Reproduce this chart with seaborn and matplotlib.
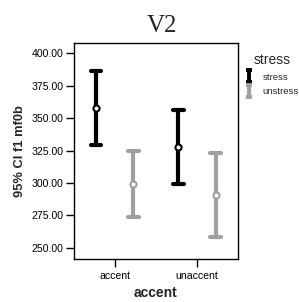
import numpy as np
import pandas as pd
import matplotlib
matplotlib.use("Agg")
import matplotlib.pyplot as plt
import seaborn as sns
from matplotlib.path import Path
from matplotlib.lines import Line2D

# ---- data ----
accent_levels = ["accent", "unaccent"]
stress_levels = ["stress", "unstress"]
mean_stress = [357.7, 327.5]
lo_stress = [328.9, 299.3]
hi_stress = [386.5, 355.9]
mean_unstress = [299.5, 290.8]
lo_unstress = [273.7, 258.5]
hi_unstress = [325.0, 322.8]
yticks = [250, 275, 300, 325, 350, 375, 400]
ytick_labels = ["250.00", "275.00", "300.00", "325.00", "350.00", "375.00", "400.00"]

rows = []
for i, acc in enumerate(accent_levels):
    for st, lo, mu, hi in [("stress", lo_stress, mean_stress, hi_stress),
                           ("unstress", lo_unstress, mean_unstress, hi_unstress)]:
        for v in (lo[i], mu[i], hi[i]):
            rows.append({"accent": acc, "stress": st, "f1mf0b": v})
df = pd.DataFrame(rows)

sns.set_style("white")
plt.rcParams["font.family"] = ["Liberation Sans", "DejaVu Sans"]

BLACK = "#000000"
GREY = "#a0a0a0"

fig = plt.figure(figsize=(2.99, 3.02), dpi=100)
ax = fig.add_axes([0.246, 0.1424, 0.550, 0.715])

sns.pointplot(
    data=df, x="accent", y="f1mf0b", hue="stress",
    order=accent_levels, hue_order=stress_levels,
    estimator="median", errorbar=lambda v: (v.min(), v.max()),
    dodge=0.454, linestyle="none", palette=[BLACK, GREY],
    capsize=0.13, err_kws={"linewidth": 3.0},
    markers="o", markersize=4.4, markeredgewidth=1.5,
    markerfacecolor="white", legend=False, ax=ax,
)
for ln in ax.lines:
    if ln.get_marker() == "o":
        ln.set_zorder(5)
        ln.set_markerfacecolor("white")

ax.set_xlim(-0.5, 1.5)
ax.set_ylim(241.5, 407.7)
ax.set_yticks(yticks)
ax.set_yticklabels(ytick_labels)
for s in ax.spines.values():
    s.set_visible(True)
    s.set_color("black")
    s.set_linewidth(1.0)
ax.tick_params(axis="both", which="both", direction="out", length=6, width=1,
               color="black", labelsize=7.6, pad=1.5, labelcolor="black")
ax.tick_params(left=True, bottom=True, right=False, top=False)
ax.tick_params(axis="x", pad=3)
ax.set_xlabel("accent", fontsize=10, fontweight="bold", labelpad=3)
ax.set_ylabel("95% CI f1 mf0b", fontsize=9.3, fontweight="bold", labelpad=4)

fig.text(0.543, 0.894, "V2", fontsize=18, family=["Liberation Serif", "DejaVu Serif"],
         ha="center", va="baseline")

# legend with I-shaped error bar glyphs
ipath = Path([(-0.5, 1), (0.5, 1), (0, 1), (0, -1), (-0.5, -1), (0.5, -1)],
             [Path.MOVETO, Path.LINETO, Path.MOVETO, Path.LINETO, Path.MOVETO, Path.LINETO])
handles = [Line2D([], [], linestyle="none", marker=ipath, markersize=8.5,
                  markeredgewidth=2.8, markeredgecolor=c, markerfacecolor="none")
           for c in (BLACK, GREY)]
leg = fig.legend(handles, stress_levels, title="stress", loc="upper left",
                 bbox_to_anchor=(0.798, 0.845), frameon=False, fontsize=6.8,
                 title_fontsize=10, handlelength=0.85, handletextpad=1.0,
                 labelspacing=0.55, borderpad=0.2, alignment="center")

fig.savefig("out.png", dpi=100)
